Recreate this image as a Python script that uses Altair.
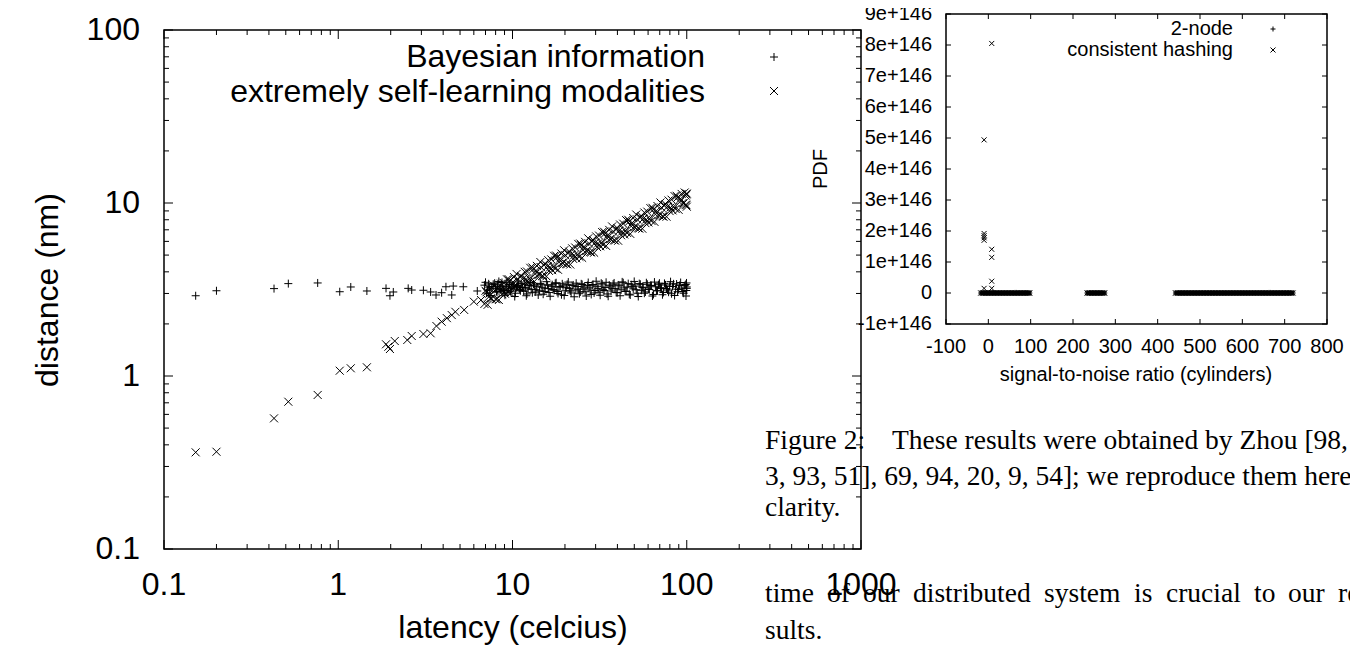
import altair as alt
import pandas as pd

SANS = "Liberation Sans"
SERIF = "Liberation Serif"

# ---------------- left chart data ----------------
LAT_BAYES_SPARSE = [0.152, 0.2, 0.428, 0.517, 0.762, 1.02, 1.18, 1.46, 1.88, 1.98, 2.07,
                    2.52, 2.64, 3.08, 3.39, 3.64, 3.92, 4.15, 4.48, 4.57, 5.22, 6.28]
DIST_BAYES_SPARSE = [2.91, 3.11, 3.20, 3.42, 3.45, 3.07, 3.27, 3.10, 3.21, 2.91, 3.06,
                     3.21, 3.14, 3.13, 3.06, 2.94, 3.03, 3.28, 2.94, 3.31, 3.28, 3.10]
LAT_SELF_SPARSE = [0.152, 0.2, 0.428, 0.517, 0.762, 1.02, 1.18, 1.46, 1.88, 1.94, 1.98, 2.11,
                   2.49, 2.64, 3.08, 3.39, 3.66, 3.92, 4.2, 4.48, 4.7, 5.28, 6.0, 6.6]
DIST_SELF_SPARSE = [0.362, 0.365, 0.569, 0.710, 0.777, 1.073, 1.108, 1.123, 1.525, 1.476, 1.432, 1.593,
                    1.615, 1.703, 1.749, 1.766, 1.945, 2.06, 2.16, 2.25, 2.35, 2.41, 2.69, 2.75]

LAT_DENSE = [6.9, 7.1, 7.3, 7.4, 7.6, 7.9, 8.1, 8.2, 8.5, 8.7,
             8.9, 9.2, 9.4, 9.6, 9.9, 10.2, 10.4, 10.7, 11.0, 11.2,
             11.6, 11.9, 12.1, 12.5, 12.8, 13.2, 13.5, 13.8, 14.3, 14.6,
             15.0, 15.4, 15.9, 16.2, 16.7, 17.1, 17.6, 18.0, 18.5, 19.1,
             19.5, 20.1, 20.6, 21.2, 21.7, 22.3, 22.9, 23.5, 24.2, 24.8,
             25.4, 26.1, 26.9, 27.5, 28.3, 29.0, 29.8, 30.6, 31.4, 32.3,
             33.1, 34.0, 34.9, 35.9, 36.8, 37.8, 38.8, 39.9, 40.9, 42.0,
             43.2, 44.3, 45.5, 46.8, 48.0, 49.3, 50.6, 52.0, 53.4, 54.9,
             56.3, 57.9, 59.4, 61.0, 62.7, 64.4, 66.1, 67.9, 69.7, 71.6,
             73.5, 75.5, 77.6, 79.7, 81.8, 84.0, 86.3, 88.6, 91.0, 93.5,
             96.0, 98.6, 99.4, 100.0]
DIST_BAYES_DENSE = [3.35, 3.02, 3.41, 3.18, 3.29, 3.44, 3.08, 3.36, 3.22, 3.47,
                    3.12, 3.31, 3.05, 3.38, 3.19, 3.27, 3.01, 3.34, 3.15, 3.42,
                    3.09, 3.24, 2.98, 3.33, 3.17, 3.40, 3.06, 3.28, 3.13, 3.37,
                    2.97, 3.22, 3.35, 3.04, 3.30, 3.16, 3.43, 3.08, 3.26, 2.95,
                    3.32, 3.11, 3.39, 3.20, 3.02, 3.36, 3.14, 3.29, 2.99, 3.41,
                    3.18, 3.07, 3.34, 3.23, 2.96, 3.38, 3.12, 3.30, 3.05, 3.44,
                    3.17, 3.25, 2.98, 3.35, 3.10, 3.40, 3.21, 3.03, 3.32, 3.15,
                    3.46, 3.08, 3.27, 2.97, 3.37, 3.19, 3.31, 3.01, 3.42, 3.13,
                    3.24, 3.06, 3.39, 3.16, 3.33, 2.96, 3.28, 3.11, 3.44, 3.20,
                    3.04, 3.36, 3.14, 3.30, 2.99, 3.41, 3.18, 3.07, 3.34, 3.22,
                    3.01, 3.38, 3.12, 3.27]
DIST_SELF_DENSE = [2.61, 3.05, 2.86, 3.17, 2.80, 3.13, 2.78, 3.24, 3.15, 2.97,
                   3.45, 3.15, 3.05, 3.55, 3.34, 3.73, 3.28, 3.64, 3.23, 3.79,
                   3.68, 3.47, 4.02, 3.67, 3.56, 4.16, 3.89, 4.33, 3.85, 4.25,
                   3.77, 4.45, 4.31, 4.05, 4.72, 4.29, 4.18, 4.86, 4.55, 5.10,
                   4.49, 4.99, 4.42, 5.23, 5.03, 4.75, 5.53, 5.03, 4.89, 5.70,
                   5.34, 5.96, 5.27, 5.83, 5.18, 6.11, 5.90, 5.56, 6.48, 5.90,
                   5.73, 6.68, 6.26, 6.99, 6.17, 6.84, 6.07, 7.17, 6.91, 6.51,
                   7.59, 6.91, 6.71, 7.83, 7.34, 8.19, 7.23, 8.03, 7.12, 8.41,
                   8.11, 7.65, 8.91, 8.11, 7.88, 9.19, 8.61, 9.61, 8.48, 9.41,
                   8.34, 9.86, 9.52, 8.98, 10.45, 9.52, 9.24, 10.77, 10.11, 11.28,
                   9.96, 11.04, 9.71, 11.34]

LAT_DENSE2 = [7.0, 7.2, 7.35, 7.5, 7.75, 8.0, 8.15, 8.35, 8.6, 8.8,
              9.05, 9.3, 9.5, 9.75, 10.05, 10.3, 10.55, 10.85, 11.1, 11.4,
              11.75, 12.0, 12.3, 12.65, 13.0, 13.35, 13.65, 14.05, 14.45, 14.8,
              15.2, 15.65, 16.05, 16.45, 16.9, 17.35, 17.8, 18.25, 18.8, 19.3,
              19.8, 20.35, 20.9, 21.45, 22.0, 22.6, 23.2, 23.85, 24.5, 25.1,
              25.75, 26.5, 27.2, 27.9, 28.65, 29.4, 30.2, 31.0, 31.85, 32.7,
              33.55, 34.45, 35.4, 36.35, 37.3, 38.3, 39.35, 40.4, 41.45, 42.6,
              43.75, 44.9, 46.15, 47.4, 48.65, 49.95, 51.3, 52.7, 54.15, 55.6,
              57.1, 58.65, 60.2, 61.85, 63.55, 65.25, 67.0, 68.8, 70.65, 72.55,
              74.5, 76.55, 78.65, 80.75, 82.9, 85.15, 87.45, 89.8, 92.25, 94.75,
              97.3, 99.0, 99.7, 100.0]
DIST_BAYES_DENSE2 = [3.48, 3.14, 3.26, 2.92, 3.39, 3.21, 3.05, 3.52, 3.17, 3.30,
                     2.93, 3.45, 3.23, 3.09, 3.36, 2.88, 3.28, 3.50, 3.11, 3.25,
                     3.40, 2.91, 3.19, 3.47, 3.03, 3.32, 3.15, 2.94, 3.43, 3.26,
                     3.08, 3.51, 3.20, 2.89, 3.37, 3.13, 3.46, 3.00, 3.29, 3.41,
                     2.92, 3.24, 3.49, 3.10, 3.33, 2.87, 3.44, 3.18, 3.06, 3.38,
                     3.27, 2.90, 3.47, 3.14, 3.35, 3.02, 3.53, 3.21, 2.93, 3.40,
                     3.12, 3.48, 2.89, 3.31, 3.19, 3.45, 3.04, 3.36, 2.91, 3.50,
                     3.23, 3.09, 3.42, 2.94, 3.28, 3.52, 3.15, 2.88, 3.39, 3.26,
                     3.01, 3.46, 3.18, 3.34, 2.90, 3.49, 3.11, 3.37, 3.24, 2.95,
                     3.43, 3.20, 3.05, 3.51, 3.29, 2.92, 3.40, 3.16, 3.47, 3.08,
                     3.33, 2.90, 3.45, 3.21]
DIST_SELF_DENSE2 = [3.11, 2.58, 2.99, 2.81, 3.34, 2.78, 3.21, 2.75, 3.42, 3.11,
                    2.99, 3.62, 3.63, 3.01, 3.49, 3.30, 3.89, 3.24, 3.74, 3.22,
                    4.00, 3.63, 3.49, 4.22, 4.24, 3.52, 4.07, 3.85, 4.56, 3.79,
                    4.38, 3.77, 4.67, 4.25, 4.09, 4.95, 4.97, 4.11, 4.78, 4.51,
                    5.33, 4.44, 5.14, 4.41, 5.47, 4.99, 4.79, 5.80, 5.83, 4.82,
                    5.59, 5.29, 6.25, 5.20, 6.01, 5.16, 6.41, 5.84, 5.62, 6.79,
                    6.82, 5.65, 6.56, 6.19, 7.32, 6.09, 7.05, 6.05, 7.51, 6.84,
                    6.58, 7.96, 8.00, 6.63, 7.69, 7.26, 8.58, 7.15, 8.27, 7.10,
                    8.81, 8.03, 7.72, 9.34, 9.38, 7.78, 9.02, 8.52, 10.07, 8.38,
                    9.70, 8.33, 10.34, 9.42, 9.06, 10.96, 11.01, 9.13, 10.59, 10.00,
                    11.50, 9.79, 11.22, 9.52]

LEFT_X_TICKS = [0.1, 1, 10, 100, 1000]
LEFT_X_LABELS = ["0.1", "1", "10", "100", "1000"]
LEFT_X_MINOR = [0.2, 0.3, 0.4, 0.5, 0.6, 0.7, 0.8, 0.9,
                2, 3, 4, 5, 6, 7, 8, 9,
                20, 30, 40, 50, 60, 70, 80, 90,
                200, 300, 400, 500, 600, 700, 800, 900]
LEFT_Y_TICKS = [0.1, 1, 10, 100]
LEFT_Y_LABELS = ["0.1", "1", "10", "100"]
LEFT_Y_MINOR = [0.2, 0.3, 0.4, 0.5, 0.6, 0.7, 0.8, 0.9,
                2, 3, 4, 5, 6, 7, 8, 9,
                20, 30, 40, 50, 60, 70, 80, 90]

# ---------------- right chart data ----------------
SNR_BAND = [-18, -16, -13, -11, -9, -6, -4, -2, 1, 3, 5, 8, 10, 12, 15, 17, 19, 22, 24, 26,
            29, 31, 33, 36, 38, 40, 43, 45, 47, 50, 52, 54, 57, 59, 61, 64, 66, 68, 71, 73,
            75, 78, 80, 82, 85, 87, 89, 92, 94, 96, 98,
            233, 235, 238, 240, 242, 245, 247, 249, 252, 254, 256, 259, 261, 263, 266, 268,
            270, 273, 275,
            442, 444, 447, 449, 451, 454, 456, 458, 461, 463, 465, 468, 470, 472, 475, 477,
            479, 482, 484, 486, 489, 491, 493, 496, 498, 500, 503, 505, 507, 510, 512, 514,
            517, 519, 521, 524, 526, 528, 531, 533, 535, 538, 540, 542, 545, 547, 549, 552,
            554, 556, 559, 561, 563, 566, 568, 570, 573, 575, 577, 580, 582, 584, 587, 589,
            591, 594, 596, 598, 601, 603, 605, 608, 610, 612, 615, 617, 619, 622, 624, 626,
            629, 631, 633, 636, 638, 640, 643, 645, 647, 650, 652, 654, 657, 659, 661, 664,
            666, 668, 671, 673, 675, 678, 680, 682, 685, 687, 689, 692, 694, 696, 699, 701,
            703, 706, 708, 710, 713, 715, 717, 720]
PDF_BAND = [0.0] * len(SNR_BAND)
SNR_HASH_OUT = [-10, -10, -10, -10, -10, -10, 8, 8, 8, 8, 8]
PDF_HASH_OUT = [4.94e146, 1.92e146, 1.85e146, 1.78e146, 1.70e146, 0.15e146,
                8.05e146, 1.41e146, 1.15e146, 0.38e146, 0.15e146]

RIGHT_X_TICKS = [-100, 0, 100, 200, 300, 400, 500, 600, 700, 800]
RIGHT_X_LABELS = ["-100", "0", "100", "200", "300", "400", "500", "600", "700", "800"]
RIGHT_Y_TICKS = [-1e146, 0, 1e146, 2e146, 3e146, 4e146, 5e146, 6e146, 7e146, 8e146, 9e146]
RIGHT_Y_LABELS = ["-1e+146", "0", "1e+146", "2e+146", "3e+146", "4e+146", "5e+146",
                  "6e+146", "7e+146", "8e+146", "9e+146"]

# ---------------- text ----------------
LEFT_XTITLE = "latency (celcius)"
LEFT_YTITLE = "distance (nm)"
LEFT_KEYS = ["Bayesian information", "extremely self-learning modalities"]
RIGHT_XTITLE = "signal-to-noise ratio (cylinders)"
RIGHT_YTITLE = "PDF"
RIGHT_KEYS = ["2-node", "consistent hashing"]
CAPTION = ["Figure 2:", "These results were obtained by Zhou [98, 25,",
           "3, 93, 51], 69, 94, 20, 9, 54]; we reproduce them here for", "clarity."]
BODY_WORDS = ["time", "of", "our", "distributed", "system", "is", "crucial", "to", "our", "re-"]
BODY_WORD_X = [601, 663, 699, 749, 880, 970, 1002, 1090, 1124, 1174]
BODY_LAST = "sults."

# ---------------- geometry / style ----------------
W, H = 697, 519
PLUS = "M-1,0L1,0M0,-1L0,1"
CROSS = "M-1,-1L1,1M-1,1L1,-1"
CAP_SIZE = 27.5

XL = alt.Scale(type="log", domain=[0.1, 1000], nice=False)
YL = alt.Scale(type="log", domain=[0.1, 100], nice=False)
XR = alt.Scale(type="linear", domain=[-100, 800], range=[782, 1163], nice=False, zero=False)
YR = alt.Scale(type="linear", domain=[-1e146, 9e146], range=[294, -16], nice=False, zero=False)


def points(xs, ys, shape, size, xs_scale, ys_scale):
    df = pd.DataFrame({"x": xs, "y": ys})
    return alt.Chart(df).mark_point(shape=shape, size=size, filled=False, color="black",
                                    strokeWidth=1, opacity=1).encode(
        x=alt.X("x:Q", scale=xs_scale, axis=None),
        y=alt.Y("y:Q", scale=ys_scale, axis=None))


def ticks_x(values, xscale, ydatum, yscale, length):
    df = pd.DataFrame({"v": values})
    return alt.Chart(df).mark_rule(color="black", strokeWidth=1, y2Offset=length).encode(
        x=alt.X("v:Q", scale=xscale, axis=None),
        y=alt.YDatum(ydatum, scale=yscale, axis=None),
        y2=alt.Y2Datum(ydatum))


def ticks_y(values, yscale, xdatum, xscale, length):
    df = pd.DataFrame({"v": values})
    return alt.Chart(df).mark_rule(color="black", strokeWidth=1, x2Offset=length).encode(
        y=alt.Y("v:Q", scale=yscale, axis=None),
        x=alt.XDatum(xdatum, scale=xscale, axis=None),
        x2=alt.X2Datum(xdatum))


def xlabels(values, labels, xscale, ydatum, yscale, dy, size):
    df = pd.DataFrame({"v": values, "t": labels})
    return alt.Chart(df).mark_text(font=SANS, fontSize=size, dy=dy, baseline="middle",
                                   align="center", color="black").encode(
        x=alt.X("v:Q", scale=xscale, axis=None),
        y=alt.YDatum(ydatum, scale=yscale, axis=None),
        text="t:N")


def ylabels(values, labels, yscale, xdatum, xscale, dx, size):
    df = pd.DataFrame({"v": values, "t": labels})
    return alt.Chart(df).mark_text(font=SANS, fontSize=size, dx=dx, baseline="middle",
                                   align="right", color="black").encode(
        y=alt.Y("v:Q", scale=yscale, axis=None),
        x=alt.XDatum(xdatum, scale=xscale, axis=None),
        text="t:N")


def note(txt, x, y, size, font=SANS, align="center", angle=0):
    df = pd.DataFrame({"t": [txt]})
    return alt.Chart(df).mark_text(font=font, fontSize=size, align=align, baseline="middle",
                                   angle=angle, color="black").encode(
        text="t:N", x=alt.value(x), y=alt.value(y))


def key_symbol(shape, size, x, y):
    df = pd.DataFrame({"k": [0]})
    return alt.Chart(df).mark_point(shape=shape, size=size, filled=False, color="black",
                                    strokeWidth=1, opacity=1).encode(
        x=alt.value(x), y=alt.value(y))


layers = []

# left chart
layers.append(points(LAT_BAYES_SPARSE + LAT_DENSE + LAT_DENSE2,
                     DIST_BAYES_SPARSE + DIST_BAYES_DENSE + DIST_BAYES_DENSE2, PLUS, 64, XL, YL))
layers.append(points(LAT_SELF_SPARSE + LAT_DENSE + LAT_DENSE2,
                     DIST_SELF_SPARSE + DIST_SELF_DENSE + DIST_SELF_DENSE2, CROSS, 64, XL, YL))
layers += [
    ticks_x(LEFT_X_TICKS, XL, 0.1, YL, -9), ticks_x(LEFT_X_MINOR, XL, 0.1, YL, -5),
    ticks_x(LEFT_X_TICKS, XL, 100, YL, 9), ticks_x(LEFT_X_MINOR, XL, 100, YL, 5),
    ticks_y(LEFT_Y_TICKS, YL, 0.1, XL, 9), ticks_y(LEFT_Y_MINOR, YL, 0.1, XL, 5),
    ticks_y(LEFT_Y_TICKS, YL, 1000, XL, -9), ticks_y(LEFT_Y_MINOR, YL, 1000, XL, -5),
    xlabels(LEFT_X_TICKS, LEFT_X_LABELS, XL, 0.1, YL, 36, 32),
    ylabels(LEFT_Y_TICKS, LEFT_Y_LABELS, YL, 0.1, XL, -24, 32),
    note(LEFT_XTITLE, 349, 598, 32),
    note(LEFT_YTITLE, -116, 260, 32, angle=270),
    note(LEFT_KEYS[0], 541, 27, 32, align="right"),
    note(LEFT_KEYS[1], 541, 62, 32, align="right"),
    key_symbol(PLUS, 64, 610, 27),
    key_symbol(CROSS, 64, 610, 61),
]

# right chart
frame_r = alt.Chart(pd.DataFrame({"k": [0]})).mark_rect(filled=False, color="black", strokeWidth=1.5).encode(
    x=alt.XDatum(-100, scale=XR, axis=None), x2=alt.X2Datum(800),
    y=alt.YDatum(-1e146, scale=YR, axis=None), y2=alt.Y2Datum(9e146))
layers += [
    frame_r,
    points(SNR_BAND, PDF_BAND, PLUS, 25, XR, YR),
    points(SNR_BAND + SNR_HASH_OUT, PDF_BAND + PDF_HASH_OUT, CROSS, 25, XR, YR),
    ticks_x(RIGHT_X_TICKS, XR, -1e146, YR, -5),
    ticks_x(RIGHT_X_TICKS, XR, 9e146, YR, 5),
    ticks_y(RIGHT_Y_TICKS, YR, -100, XR, 5),
    ticks_y(RIGHT_Y_TICKS, YR, 800, XR, -5),
    xlabels(RIGHT_X_TICKS, RIGHT_X_LABELS, XR, -1e146, YR, 23, 20),
    ylabels(RIGHT_Y_TICKS, RIGHT_Y_LABELS, YR, -100, XR, -14, 20),
    note(RIGHT_XTITLE, 972, 345, 20),
    note(RIGHT_YTITLE, 657, 139, 20, angle=270),
    note(RIGHT_KEYS[0], 1069, -1, 20, align="right"),
    note(RIGHT_KEYS[1], 1069, 20, 20, align="right"),
    key_symbol(PLUS, 25, 1109, -1),
    key_symbol(CROSS, 25, 1109, 20),
]

# caption and body text
layers += [
    note(CAPTION[0], 601, 411, CAP_SIZE, font=SERIF, align="left"),
    note(CAPTION[1], 728, 411, CAP_SIZE, font=SERIF, align="left"),
    note(CAPTION[2], 601, 447, CAP_SIZE, font=SERIF, align="left"),
    note(CAPTION[3], 601, 478, CAP_SIZE, font=SERIF, align="left"),
    note(BODY_LAST, 601, 601, CAP_SIZE, font=SERIF, align="left"),
]
for word, wx in zip(BODY_WORDS, BODY_WORD_X):
    layers.append(note(word, wx, 564, CAP_SIZE, font=SERIF, align="left"))

chart = alt.layer(*layers).resolve_scale(
    x="independent", y="independent"
).properties(
    width=W, height=H,
    padding={"left": 156, "top": 22, "right": 489, "bottom": 98},
    autosize=alt.AutoSizeParams(type="none"),
).configure_view(stroke="black", strokeWidth=1.5)

chart.save("out.html", embed_options={"renderer": "svg", "actions": False})
